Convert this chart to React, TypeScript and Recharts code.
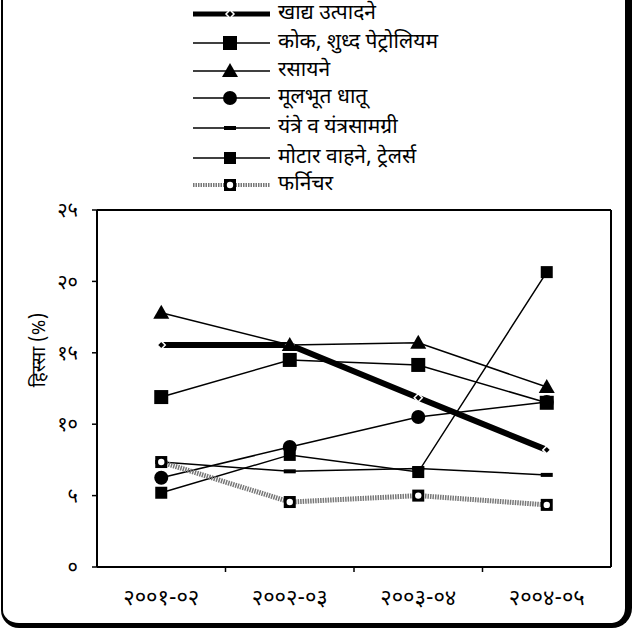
import React from 'react';
import { LineChart, Line, XAxis, YAxis } from 'recharts';

const categories = ['२००१-०२', '२००२-०३', '२००३-०४', '२००४-०५'];
const food = [15.55, 15.55, 11.85, 8.2];
const coke = [11.9, 14.5, 14.15, 11.5];
const chemicals = [17.8, 15.55, 15.7, 12.6];
const metals = [6.25, 8.4, 10.5, 11.55];
const machinery = [7.35, 6.7, 6.9, 6.45];
const motor = [5.2, 7.85, 6.65, 20.65];
const furniture = [7.35, 4.55, 5.0, 4.35];
const yTicks = [0, 5, 10, 15, 20, 25];
const xTicks = [0.5, 1, 1.5, 2, 2.5, 3, 3.5];

const seriesNames = {
  food: 'खाद्य उत्पादने',
  coke: 'कोक, शुध्द पेट्रोलियम',
  chemicals: 'रसायने',
  metals: 'मूलभूत धातू',
  machinery: 'यंत्रे व यंत्रसामग्री',
  motor: 'मोटार वाहने, ट्रेलर्स',
  furniture: 'फर्निचर',
};
const yAxisTitle = 'हिस्सा (%)';

const devDigits = ['०', '१', '२', '३', '४', '५', '६', '७', '८', '९'];
const toDev = (n: number) => String(n).replace(/[0-9]/g, (d) => devDigits[Number(d)]);

const data = categories.map((c, i) => ({
  x: i + 0.5,
  cat: c,
  food: food[i],
  coke: coke[i],
  chemicals: chemicals[i],
  metals: metals[i],
  machinery: machinery[i],
  motor: motor[i],
  furniture: furniture[i],
}));

const FONT = "'Noto Sans Devanagari', 'Noto Sans', 'DejaVu Sans', sans-serif";

const Diamond = (props: any) => {
  const { cx, cy } = props;
  if (cx == null || cy == null) return null;
  return <path d={`M${cx},${cy - 4} L${cx + 4},${cy} L${cx},${cy + 4} L${cx - 4},${cy} Z`} fill="#000" stroke="#fff" strokeWidth={1.5} />;
};
const BigSquare = (props: any) => {
  const { cx, cy } = props;
  if (cx == null || cy == null) return null;
  return <rect x={cx - 7} y={cy - 7} width={14} height={14} fill="#000" />;
};
const SmallSquare = (props: any) => {
  const { cx, cy } = props;
  if (cx == null || cy == null) return null;
  return <rect x={cx - 6} y={cy - 6} width={12} height={12} fill="#000" />;
};
const Tri = (props: any) => {
  const { cx, cy } = props;
  if (cx == null || cy == null) return null;
  return <path d={`M${cx},${cy - 8} L${cx + 8},${cy + 6} L${cx - 8},${cy + 6} Z`} fill="#000" />;
};
const Circ = (props: any) => {
  const { cx, cy } = props;
  if (cx == null || cy == null) return null;
  return <circle cx={cx} cy={cy} r={7} fill="#000" />;
};
const Dash = (props: any) => {
  const { cx, cy } = props;
  if (cx == null || cy == null) return null;
  return <rect x={cx - 6} y={cy - 2} width={12} height={4} fill="#000" />;
};
const FurnMark = (props: any) => {
  const { cx, cy } = props;
  if (cx == null || cy == null) return null;
  return (
    <g>
      <rect x={cx - 6} y={cy - 6} width={12} height={12} fill="#000" />
      <circle cx={cx} cy={cy} r={3.2} fill="#fff" />
    </g>
  );
};

const legendItems = [
  { key: 'food', stroke: '#000', width: 5, dash: undefined, marker: 'diamond' },
  { key: 'coke', stroke: '#000', width: 1.5, dash: undefined, marker: 'bigsquare' },
  { key: 'chemicals', stroke: '#000', width: 1.5, dash: undefined, marker: 'tri' },
  { key: 'metals', stroke: '#000', width: 1.5, dash: undefined, marker: 'circ' },
  { key: 'machinery', stroke: '#000', width: 1.5, dash: undefined, marker: 'dash' },
  { key: 'motor', stroke: '#000', width: 1.5, dash: undefined, marker: 'smallsquare' },
  { key: 'furniture', stroke: '#777', width: 4, dash: '1.5 1', marker: 'furn' },
];

const legendRows = [14, 43, 71, 98, 128, 158, 185];

const markerFor = (m: string, cx: number, cy: number) => {
  switch (m) {
    case 'diamond':
      return <Diamond cx={cx} cy={cy} />;
    case 'bigsquare':
      return <BigSquare cx={cx} cy={cy} />;
    case 'tri':
      return <Tri cx={cx} cy={cy} />;
    case 'circ':
      return <Circ cx={cx} cy={cy} />;
    case 'dash':
      return <Dash cx={cx} cy={cy} />;
    case 'smallsquare':
      return <SmallSquare cx={cx} cy={cy} />;
    default:
      return <FurnMark cx={cx} cy={cy} />;
  }
};

const LegendBlock = () => (
  <div style={{ position: 'absolute', left: 190, top: 0, width: 320, height: 200 }}>
    {legendItems.map((it, i) => (
      <div key={it.key} style={{ position: 'absolute', left: 0, top: legendRows[i] - 12, height: 24, display: 'flex', alignItems: 'center' }}>
        <svg width={84} height={24} style={{ display: 'block' }}>
          <line x1={3} y1={12} x2={80} y2={12} stroke={it.stroke} strokeWidth={it.width} strokeDasharray={it.dash} />
          {markerFor(it.marker, 40, 12)}
        </svg>
        <span style={{ fontFamily: FONT, fontSize: 21, color: '#000', marginLeft: 4, whiteSpace: 'nowrap', lineHeight: '24px' }}>
          {(seriesNames as any)[it.key]}
        </span>
      </div>
    ))}
  </div>
);

const YTitle = () => (
  <text x={40} y={350} transform="rotate(-90 40 350)" textAnchor="middle" dominantBaseline="central" fill="#000" fontSize={19} fontFamily={FONT}>
    {yAxisTitle}
  </text>
);

const XTick = (props: any) => {
  const { x, y, payload } = props;
  const v = payload.value as number;
  if (Number.isInteger(v)) {
    return <line x1={x} y1={y} x2={x} y2={y + 5} stroke="#000" strokeWidth={1.5} />;
  }
  return (
    <text x={x} y={y + 38} textAnchor="middle" fill="#000" fontSize={22} fontFamily={FONT}>
      {categories[Math.floor(v)]}
    </text>
  );
};

export default function App() {
  return (
    <div style={{ position: 'absolute', left: 0, top: 0, width: 636, height: 631, background: '#fff', overflow: 'hidden' }}>
      <div
        style={{
          position: 'absolute',
          left: 1,
          top: -20,
          width: 622,
          height: 643,
          borderLeft: '2px solid #000',
          borderRight: '7px solid #000',
          borderBottom: '5px solid #000',
          borderBottomLeftRadius: 18,
          borderBottomRightRadius: 20,
          boxSizing: 'content-box',
        }}
      />
      <LegendBlock />
      <div style={{ position: 'absolute', left: 0, top: 0 }}>
        <LineChart width={636} height={631} data={data} margin={{ top: 209, right: 24, bottom: 0, left: 0 }}>
          <XAxis
            dataKey="x"
            type="number"
            domain={[0, 4]}
            ticks={xTicks}
            tick={<XTick />}
            tickLine={false}
            tickSize={0}
            tickMargin={0}
            axisLine={{ stroke: '#000', strokeWidth: 2 }}
            height={64}
            interval={0}
          />
          <XAxis xAxisId="t" orientation="top" type="number" domain={[0, 4]} tickFormatter={() => ''} tickLine={false} axisLine={{ stroke: '#000', strokeWidth: 2 }} height={1} />
          <YAxis
            type="number"
            domain={[0, 25]}
            ticks={yTicks}
            tickFormatter={(v: number) => toDev(v)}
            tick={{ fill: '#000', fontSize: 20, fontFamily: FONT }}
            tickLine={{ stroke: '#000', strokeWidth: 1.5 }}
            tickSize={5}
            tickMargin={14}
            axisLine={{ stroke: '#000', strokeWidth: 2 }}
            width={97}
            label={<YTitle />}
          />
          <YAxis yAxisId="r" orientation="right" domain={[0, 25]} tickFormatter={() => ''} tickLine={false} axisLine={{ stroke: '#000', strokeWidth: 2 }} width={1} />
          <Line dataKey="food" stroke="#000" strokeWidth={6} dot={<Diamond />} activeDot={false} isAnimationActive={false} />
          <Line dataKey="coke" stroke="#000" strokeWidth={1.5} dot={<BigSquare />} activeDot={false} isAnimationActive={false} />
          <Line dataKey="chemicals" stroke="#000" strokeWidth={1.5} dot={<Tri />} activeDot={false} isAnimationActive={false} />
          <Line dataKey="metals" stroke="#000" strokeWidth={1.5} dot={<Circ />} activeDot={false} isAnimationActive={false} />
          <Line dataKey="machinery" stroke="#000" strokeWidth={1.5} dot={<Dash />} activeDot={false} isAnimationActive={false} />
          <Line dataKey="motor" stroke="#000" strokeWidth={1.5} dot={<SmallSquare />} activeDot={false} isAnimationActive={false} />
          <Line dataKey="furniture" stroke="#777" strokeWidth={5} strokeDasharray="1.5 1" dot={<FurnMark />} activeDot={false} isAnimationActive={false} />
        </LineChart>
      </div>
    </div>
  );
}
